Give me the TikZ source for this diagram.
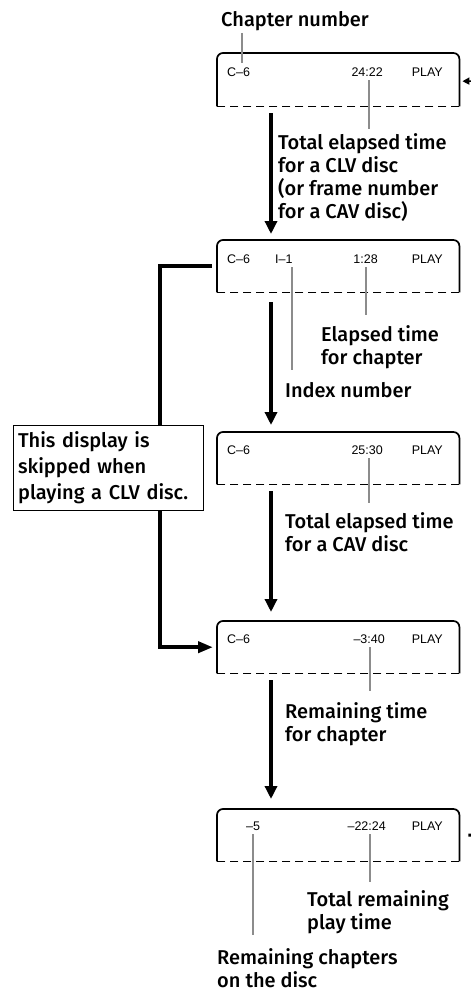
\documentclass[tikz,border=0pt]{standalone}
\usepackage{fontspec}
\setmainfont{Fira Sans}[UprightFont={* Medium}]
\newfontfamily\lcdfont{Liberation Sans}
\usetikzlibrary{calc,arrows.meta}
\newcommand\dispframe[1]{%
  \draw[displine, rounded corners=6pt] (#1.south west) -- (#1.north west) -- (#1.north east) -- (#1.south east);
  \draw[displine, dash pattern=on 8pt off 5pt] (#1.south east) -- (#1.south west);}
\begin{document}
\begin{tikzpicture}[x=1pt,y=-1pt,
  lbl/.style={anchor=north west, align=left, inner sep=0pt, font=\fontsize{20}{23}\selectfont},
  lcd/.style={inner sep=0pt, font=\lcdfont\fontsize{12.5}{14}\selectfont},
  disp/.style={anchor=north west, minimum width=242pt, minimum height=52pt, inner sep=0pt},
  displine/.style={line width=1.7pt},
  lead/.style={draw=black!45, line width=2pt},
  bigarrow/.style={line width=4.5pt, -{Triangle[length=13pt,width=12pt]}},
  bus/.style={line width=4.5pt, -{Triangle[length=15pt,width=11pt]}},
]
\useasboundingbox (0,0) rectangle (471,991);

% display panels
\node[disp, minimum height=53pt] (d1) at (217,53) {};
\node[disp] (d2) at (217,240) {};
\node[disp] (d3) at (217,432) {};
\node[disp] (d4) at (217,621) {};
\node[disp] (d5) at (217,809) {};
\dispframe{d1}\dispframe{d2}\dispframe{d3}\dispframe{d4}\dispframe{d5}

% display texts
\node[lcd, anchor=base west] (d1ch) at (227,76) {C–6};
\node[lcd, anchor=base east] (d1t) at (383,76) {24:22};
\node[lcd, anchor=base east] (d1p) at (443,76) {PLAY};

\node[lcd, anchor=base west] (d2ch) at (227,263) {C–6};
\node[lcd, anchor=base west] (d2ix) at (275,263) {I–1};
\node[lcd, anchor=base east] (d2t) at (378,263) {1:28};
\node[lcd, anchor=base east] (d2p) at (443,263) {PLAY};

\node[lcd, anchor=base west] (d3ch) at (227,454) {C–6};
\node[lcd, anchor=base east] (d3t) at (383,454) {25:30};
\node[lcd, anchor=base east] (d3p) at (443,454) {PLAY};

\node[lcd, anchor=base west] (d4ch) at (227,643) {C–6};
\node[lcd, anchor=base east] (d4t) at (385,643) {–3:40};
\node[lcd, anchor=base east] (d4p) at (443,643) {PLAY};

\node[lcd, anchor=base west] (d5ch) at (246,830) {–5};
\node[lcd, anchor=base east] (d5t) at (386,830) {–22:24};
\node[lcd, anchor=base east] (d5p) at (443,830) {PLAY};

% labels
\node[lbl] (chap) at (221,11) {Chapter number};
\node[lbl] (tclv) at (278,133) {Total elapsed time\\for a CLV disc\\(or frame number\\for a CAV disc)};
\node[lbl] (elch) at (321,325) {Elapsed time\\for chapter};
\node[lbl] (idx) at (285,382) {Index number};
\node[lbl] (tcav) at (285,512) {Total elapsed time\\for a CAV disc};
\node[lbl] (rem) at (285,702) {Remaining time\\for chapter};
\node[lbl] (trem) at (307,890) {Total remaining\\play time};
\node[lbl] (rch) at (217,948) {Remaining chapters\\on the disc};

% leader lines
\draw[lead] ($(d1ch.north |- chap.south)+(3,2)$) -- ($(d1ch.north)+(3,-4)$);
\draw[lead] ($(d1t.south)+(2,4)$) -- ($(d1t.south |- tclv.north)+(2,-4)$);
\draw[lead] ($(d2ix.south east)+(-1,4)$) -- ($(d2ix.south east |- idx.north)+(-1,-12)$);
\draw[lead] ($(d2t.south)+(0,4)$) -- ($(d2t.south |- elch.north)+(0,-10)$);
\draw[lead] ($(d3t.south)+(2,4)$) -- ($(d3t.south |- tcav.north)+(2,-9)$);
\draw[lead] ($(d4t.south)+(1,4)$) -- ($(d4t.south |- rem.north)+(1,-11)$);
\draw[lead] ($(d5t.south)+(3,4)$) -- ($(d5t.south |- trem.north)+(3,-8)$);
\draw[lead] ($(d5ch.south)+(0,4)$) -- ($(d5ch.south |- rch.north)+(0,-13)$);

% main flow arrows
\draw[bigarrow] ($(d1.south west)+(54,7)$) -- ($(d2.north west)+(54,-6)$);
\draw[bigarrow] ($(d2.south west)+(54,10)$) -- ($(d3.north west)+(54,-7)$);
\draw[bigarrow] ($(d3.south west)+(54,7)$) -- ($(d4.north west)+(54,-9)$);
\draw[bigarrow] ($(d4.south west)+(54,7)$) -- ($(d5.north west)+(54,-10)$);

% skip bus
\coordinate (busx) at (160,0);
\draw[bus] ($(d2.west)+(-5,0)$) -- (d2.west -| busx) -- (d4.west -| busx) -- ($(d4.west)+(-4,0)$);
\node[draw, line width=1.2pt, fill=white, anchor=north west, text width=181pt, minimum height=85pt,
      align=left, inner xsep=4.5pt, font=\fontsize{20}{26}\selectfont] (note) at (13,425)
  {This display is\\skipped when\\playing a CLV disc.};

% loop stubs at the right edge
\coordinate (loopin) at (476,81);
\coordinate (loopout) at (476,835);
\draw[line width=1.5pt, -{Triangle[length=7pt,width=7pt]}] (loopin) -- ($(d1.east)+(3,1.5)$);
\draw[line width=3pt] ($(d5.east)+(9,0)$) -- (loopout);
\end{tikzpicture}
\end{document}
